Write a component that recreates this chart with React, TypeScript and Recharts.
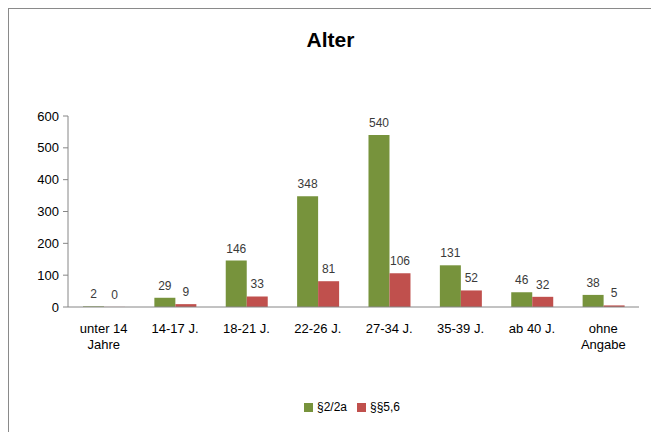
import React from "react";
import { BarChart, Bar, XAxis, YAxis, Legend, LabelList } from "recharts";

const categories = ["unter 14\nJahre", "14-17 J.", "18-21 J.", "22-26 J.", "27-34 J.", "35-39 J.", "ab 40 J.", "ohne\nAngabe"];
const seriesA = [2, 29, 146, 348, 540, 131, 46, 38];
const seriesB = [0, 9, 33, 81, 106, 52, 32, 5];
const yTicks = [0, 100, 200, 300, 400, 500, 600];
const boundaryTicks = [0, 1, 2, 3, 4, 5, 6, 7, 8];
const nameA = "§2/2a";
const nameB = "§§5,6";
const title = "Alter";

const data = categories.map((c, i) => ({ cat: c, a: seriesA[i], b: seriesB[i] }));

const FONT = "'Liberation Sans', Arial, sans-serif";

const CatTick = (props: any) => {
  const { x, y, payload } = props;
  const lines = String(payload.value).split("\n");
  return (
    <g transform={`translate(${x},${y})`}>
      {lines.map((l: string, i: number) => (
        <text key={i} x={0} y={18 + i * 16} textAnchor="middle" fill="#000" fontSize={13} fontFamily={FONT}>
          {l}
        </text>
      ))}
    </g>
  );
};

const EmptyTick = () => <g />;

const labelStyle = { fill: "#3a3a3a" };

export default function App() {
  return (
    <div style={{ position: "absolute", left: 8, top: 8, width: 643, height: 424, borderLeft: "1px solid #8a8a8a", borderTop: "1px solid #8a8a8a", background: "#fff", fontFamily: FONT }}>
      <div style={{ position: "absolute", left: 0, top: 19, width: 643, textAlign: "center", fontSize: 21, fontWeight: "bold", color: "#000" }}>
        {title}
      </div>
      <BarChart
        width={642}
        height={423}
        data={data}
        margin={{ top: 107, right: 12, left: 0, bottom: 61 }}
        barCategoryGap="21%"
        barGap={0}
      >
        <XAxis
          xAxisId="grid"
          type="number"
          domain={[0, 8]}
          ticks={boundaryTicks}
          height={0}
          tick={<EmptyTick />}
          axisLine={false}
          tickLine={{ stroke: "#868686" }}
          tickSize={5}
        />
        <XAxis
          xAxisId="cat"
          dataKey="cat"
          interval={0}
          height={50}
          tick={<CatTick />}
          axisLine={{ stroke: "#868686" }}
          tickLine={false}
        />
        <YAxis
          domain={[0, 600]}
          ticks={yTicks}
          width={59}
          tick={{ fill: "#000", fontSize: 13, fontFamily: FONT }}
          axisLine={{ stroke: "#868686" }}
          tickLine={{ stroke: "#868686" }}
          tickSize={5}
          tickMargin={4}
        />
        <Legend
          verticalAlign="bottom"
          align="center"
          iconType="square"
          iconSize={9}
          wrapperStyle={{ fontSize: 12, fontFamily: FONT, top: 391, left: 33 }}
          formatter={(v: string) => <span style={{ color: "#000" }}>{v}</span>}
        />
        <Bar xAxisId="cat" dataKey="a" name={nameA} fill="#77933C" minPointSize={0.1} isAnimationActive={false}>
          <LabelList dataKey="a" position="top" offset={8} fill="#3a3a3a" style={labelStyle} fontSize={12} fontFamily={FONT} />
        </Bar>
        <Bar xAxisId="cat" dataKey="b" name={nameB} fill="#C0504D" minPointSize={0.1} isAnimationActive={false}>
          <LabelList dataKey="b" position="top" offset={8} fill="#3a3a3a" style={labelStyle} fontSize={12} fontFamily={FONT} />
        </Bar>
      </BarChart>
    </div>
  );
}
